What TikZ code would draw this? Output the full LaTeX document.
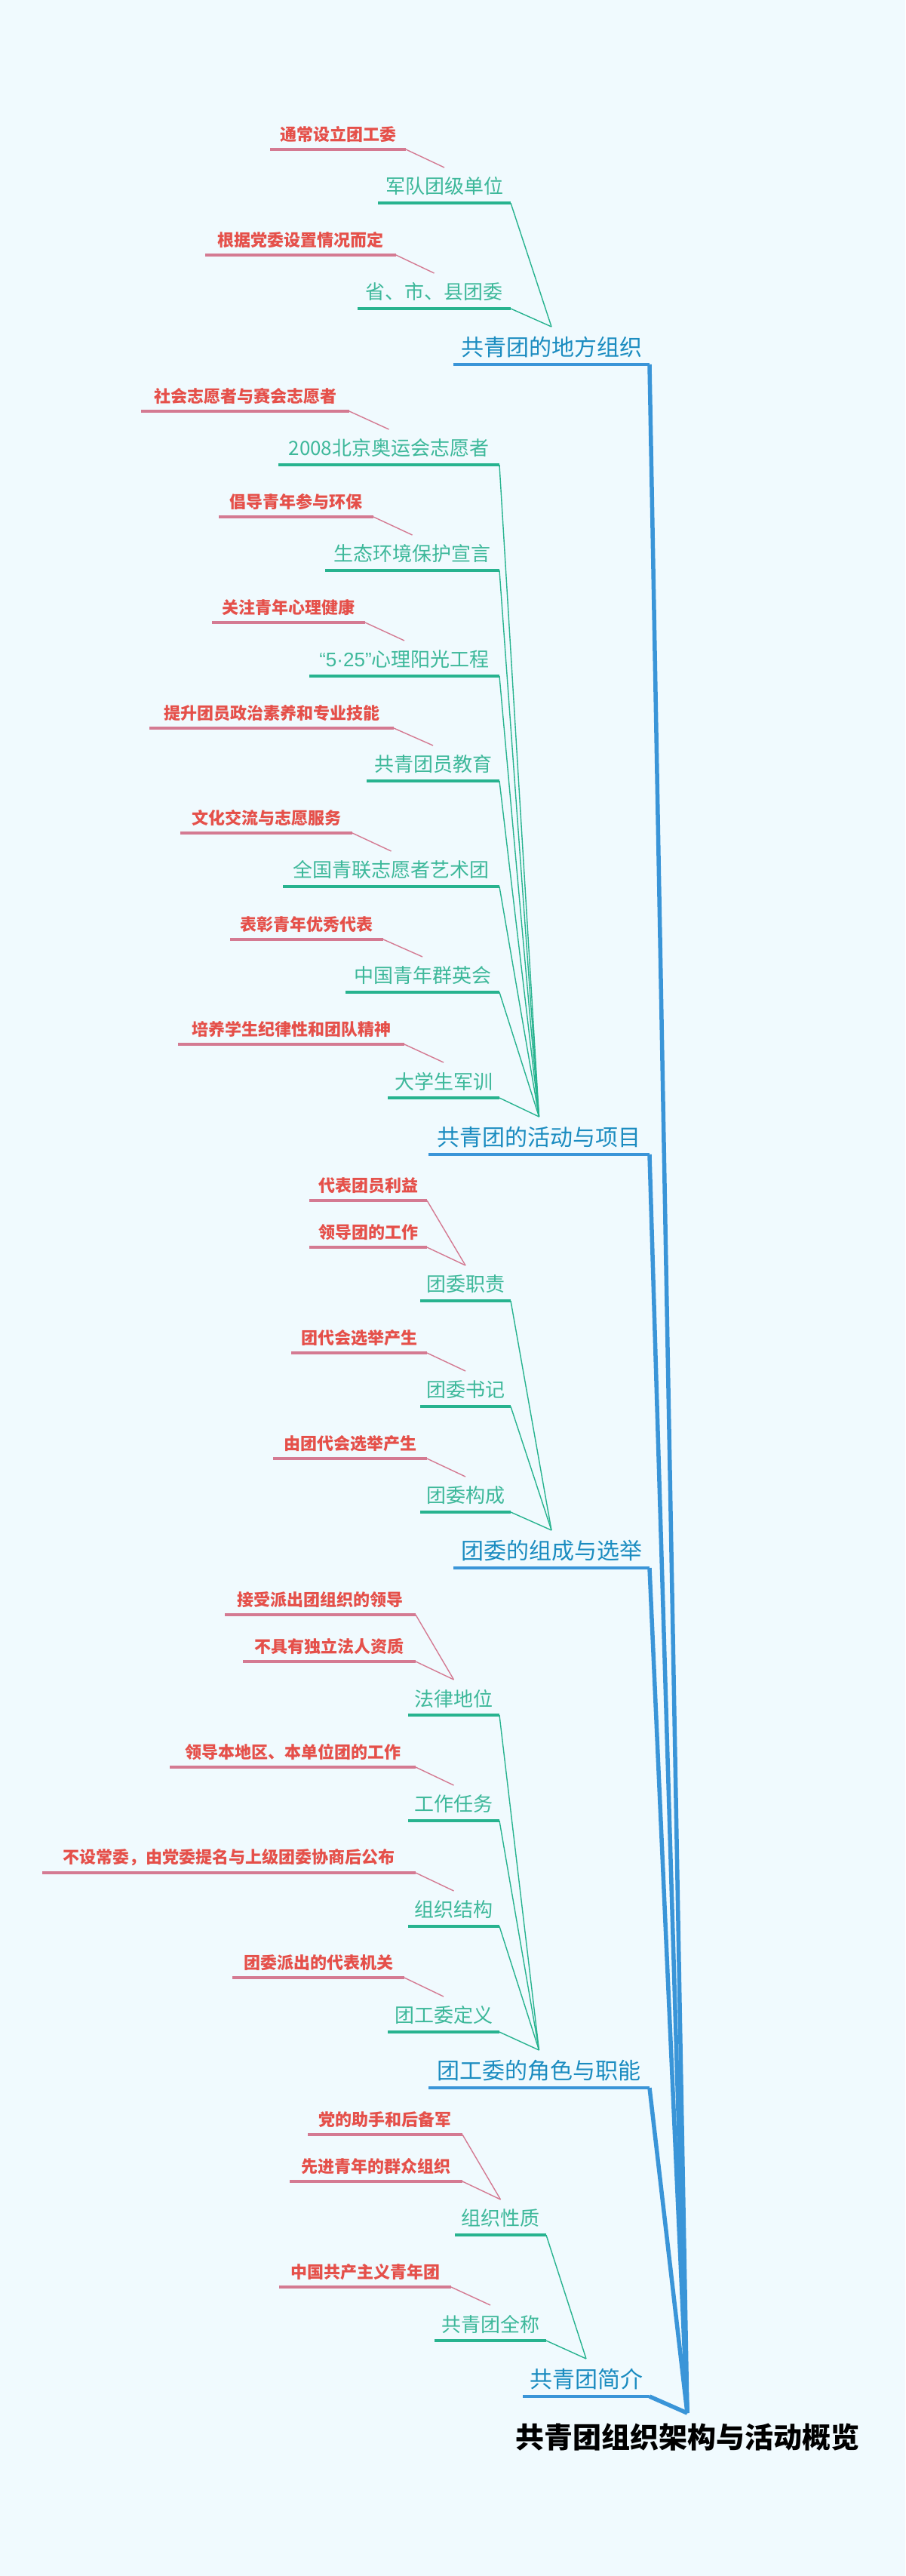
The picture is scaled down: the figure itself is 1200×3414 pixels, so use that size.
\documentclass[tikz,border=0pt]{standalone}
\usepackage{fontspec}
\setmainfont{Noto Sans CJK SC}
\newfontfamily\latinf{Liberation Sans}
\definecolor{bgc}{HTML}{F0FAFE}
\definecolor{leafc}{HTML}{E5504A}
\definecolor{leafl}{HTML}{D47A92}
\definecolor{childc}{HTML}{3DB89A}
\definecolor{childl}{HTML}{27B38F}
\definecolor{mainc}{HTML}{1B8CC0}
\definecolor{mainl}{HTML}{3A95D8}
\tikzset{
 leaftext/.style={text=leafc,font=\fontsize{22}{26}\selectfont\bfseries,inner sep=0pt},
 childtext/.style={text=childc,font=\fontsize{26}{30}\selectfont,inner sep=0pt},
 maintext/.style={text=mainc,font=\fontsize{30}{34}\selectfont,inner sep=0pt},
 roottext/.style={text=black,font=\fontsize{38}{42}\selectfont\bfseries,inner sep=0pt},
 leafline/.style={draw=leafl,line width=3.5pt},
 leafconn/.style={draw=leafl,line width=1.4pt},
 childline/.style={draw=childl,line width=4pt},
 childconn/.style={draw=childl,line width=1.4pt},
 mainline/.style={draw=mainl,line width=4pt},
 mainconn/.style={draw=mainl,line width=5.5pt,line join=round},
}
\newcommand\mkmain[5]{% id xl xr y text
 \coordinate (#1L) at (#2,#4); \coordinate (#1R) at (#3,#4);
 \coordinate (#1J) at ({(#2+#3)/2},#4-50);
 \node[maintext] (#1) at ({(#2+#3)/2},#4-23) {#5};
 \draw[mainline] (#1L) -- (#1R);
 \draw[mainconn] (#1R) -- (hub);}
\newcommand\mkchild[6]{% id xl xr y text target
 \coordinate (#1L) at (#2,#4); \coordinate (#1R) at (#3,#4);
 \coordinate (#1J) at ({(#2+#3)/2},#4-47);
 \node[childtext] (#1) at ({(#2+#3)/2},#4-22) {#5};
 \draw[childline] (#1L) -- (#1R);
 \draw[childconn] (#1R) -- (#6);}
\newcommand\mkleaf[6]{% id xl xr y text target
 \coordinate (#1L) at (#2,#4); \coordinate (#1R) at (#3,#4);
 \node[leaftext] (#1) at ({(#2+#3)/2},#4-20) {#5};
 \draw[leafline] (#1L) -- (#1R);
 \draw[leafconn] (#1R) -- (#6);}
\begin{document}
\begin{tikzpicture}[x=1pt,y=-1pt]
\fill[bgc] (0,0) rectangle (1200,3414);
\useasboundingbox (0,0) rectangle (1200,3414);
\coordinate (hub) at (911,3198);
\node[roottext] (root) at (911,3230) {共青团组织架构与活动概览};
% main 1
\mkmain{ma}{601}{861}{483}{共青团的地方组织}
\mkchild{a1}{501}{677}{269}{军队团级单位}{maJ}
\mkchild{a2}{474}{677}{409}{省、市、县团委}{maJ}
\mkleaf{a1x}{358}{538}{198}{通常设立团工委}{a1J}
\mkleaf{a2x}{272}{525}{338}{根据党委设置情况而定}{a2J}
% main 2
\mkmain{mb}{568}{861}{1530}{共青团的活动与项目}
\mkchild{b1}{369}{662}{616}{2008北京奥运会志愿者}{mbJ}
\mkchild{b2}{431}{662}{756}{生态环境保护宣言}{mbJ}
\mkchild{b3}{410}{662}{896}{{\latinf “5·25”}心理阳光工程}{mbJ}
\mkchild{b4}{486}{662}{1035}{共青团员教育}{mbJ}
\mkchild{b5}{375}{662}{1175}{全国青联志愿者艺术团}{mbJ}
\mkchild{b6}{458}{662}{1315}{中国青年群英会}{mbJ}
\mkchild{b7}{514}{662}{1455}{大学生军训}{mbJ}
\mkleaf{b1x}{187}{463}{545}{社会志愿者与赛会志愿者}{b1J}
\mkleaf{b2x}{290}{495}{685}{倡导青年参与环保}{b2J}
\mkleaf{b3x}{281}{484}{825}{关注青年心理健康}{b3J}
\mkleaf{b4x}{198}{522}{965}{提升团员政治素养和专业技能}{b4J}
\mkleaf{b5x}{239}{467}{1104}{文化交流与志愿服务}{b5J}
\mkleaf{b6x}{305}{508}{1245}{表彰青年优秀代表}{b6J}
\mkleaf{b7x}{236}{536}{1384}{培养学生纪律性和团队精神}{b7J}
% main 3
\mkmain{mc}{601}{861}{2078}{团委的组成与选举}
\mkchild{c1}{557}{677}{1724}{团委职责}{mcJ}
\mkchild{c2}{557}{677}{1864}{团委书记}{mcJ}
\mkchild{c3}{557}{677}{2004}{团委构成}{mcJ}
\mkleaf{c1x}{410}{566}{1591}{代表团员利益}{c1J}
\mkleaf{c1y}{410}{566}{1653}{领导团的工作}{c1J}
\mkleaf{c2x}{386}{566}{1793}{团代会选举产生}{c2J}
\mkleaf{c3x}{362}{566}{1933}{由团代会选举产生}{c3J}
% main 4
\mkmain{md}{568}{861}{2767}{团工委的角色与职能}
\mkchild{d1}{541}{662}{2273}{法律地位}{mdJ}
\mkchild{d2}{541}{662}{2413}{工作任务}{mdJ}
\mkchild{d3}{541}{662}{2553}{组织结构}{mdJ}
\mkchild{d4}{514}{662}{2693}{团工委定义}{mdJ}
\mkleaf{d1x}{298}{551}{2140}{接受派出团组织的领导}{d1J}
\mkleaf{d1y}{322}{551}{2202}{不具有独立法人资质}{d1J}
\mkleaf{d2x}{225}{551}{2342}{领导本地区、本单位团的工作}{d2J}
\mkleaf{d3x}{56}{551}{2482}{不设常委，由党委提名与上级团委协商后公布}{d3J}
\mkleaf{d4x}{308}{536}{2621}{团委派出的代表机关}{d4J}
% main 5
\mkmain{me}{693}{861}{3176}{共青团简介}
\mkchild{e1}{603}{724}{2962}{组织性质}{meJ}
\mkchild{e2}{576}{724}{3102}{共青团全称}{meJ}
\mkleaf{e1x}{408}{613}{2829}{党的助手和后备军}{e1J}
\mkleaf{e1y}{384}{613}{2891}{先进青年的群众组织}{e1J}
\mkleaf{e2x}{370}{598}{3031}{中国共产主义青年团}{e2J}
\end{tikzpicture}
\end{document}
